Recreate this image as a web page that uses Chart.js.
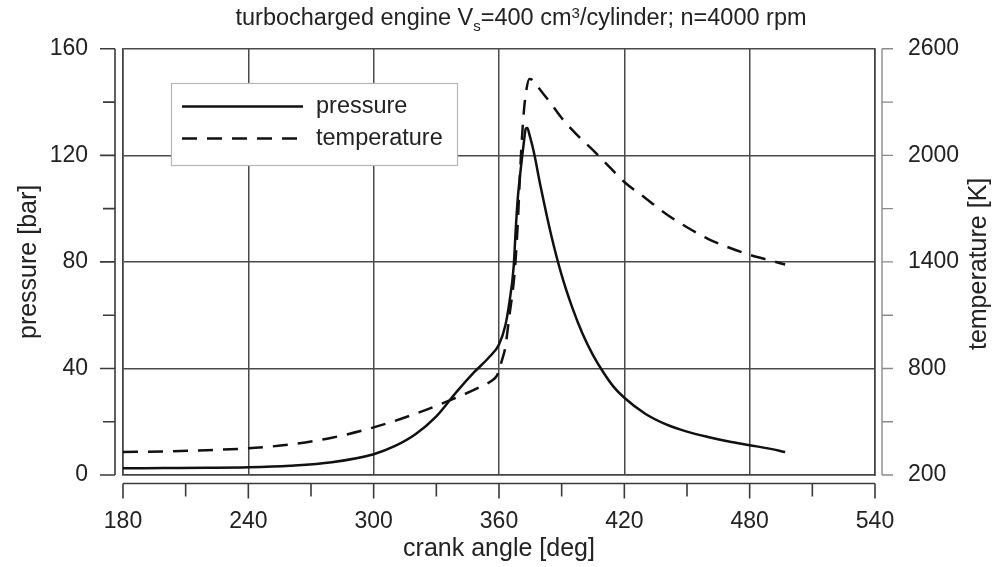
<!DOCTYPE html>
<html>
<head>
<meta charset="utf-8">
<script src="https://cdn.jsdelivr.net/npm/chart.js@4.4.1/dist/chart.umd.min.js"></script>
<style>
  html, body { margin: 0; padding: 0; background: #fff; }
  #wrap { width: 992px; height: 567px; position: relative; }
</style>
</head>
<body>
<div id="wrap"><canvas id="engine"></canvas></div>
<script>
// crank angle [deg] and pressure [bar]
var pressureAngles = [180, 200, 220, 240, 260, 280, 300, 310, 320, 330, 340, 348, 355, 360, 363, 365, 367, 368, 369, 370, 371, 372, 372.8, 373.6, 374.5, 376, 377, 380, 385, 390, 395, 400, 405, 410, 415, 420, 430, 440, 450, 460, 470, 480, 490, 497];
var pressureValues = [2.5, 2.6, 2.7, 2.9, 3.5, 4.8, 7.8, 10.8, 15.3, 22, 31.5, 38.5, 44, 49, 56, 65, 78, 92, 104, 112, 119, 125.5, 130, 130.3, 128, 123.5, 120, 108, 90, 75, 63, 53, 45, 38.5, 33, 29, 23, 19, 16.3, 14.3, 12.6, 11.2, 9.8, 8.6];

// crank angle [deg] and temperature [K]
var temperatureAngles = [180, 200, 220, 240, 260, 280, 300, 320, 340, 350, 357, 359, 360, 361.5, 363, 365, 367, 368, 369, 370, 371, 372, 373, 374.5, 376, 378, 381, 385, 390, 397, 400, 405, 410, 420, 430, 440, 450, 460, 470, 480, 490, 497];
var temperatureValues = [330, 333, 340, 350, 372, 410, 468, 545, 638, 690, 735, 760, 790, 850, 918, 1100, 1280, 1420, 1620, 1880, 2100, 2260, 2360, 2430, 2425, 2395, 2350, 2290, 2210, 2120, 2085, 2030, 1970, 1850, 1760, 1670, 1595, 1530, 1481, 1440, 1408, 1385];

var angleTicks = [180, 240, 300, 360, 420, 480, 540];
var angleMinor = [210, 270, 330, 390, 450, 510];
var pressureTicks = [0, 40, 80, 120, 160];
var pressureMinor = [20, 60, 100, 140];
var temperatureTicks = [200, 800, 1400, 2000, 2600];
var temperatureMinor = [500, 1100, 1700, 2300];

var FONT = "'Liberation Sans', Arial, Helvetica, sans-serif";

function toPoints(xs, ys) {
    return xs.map(function(x, i) { return {x: x, y: ys[i]}; });
}

function tickList(values) {
    return values.map(function(v) { return {value: v}; });
}

function plainLabel(v) {
    return String(v);
}

// offset axis lines with major/minor tick marks, drawn outside the plot frame
var offsetAxes = {
    id: 'offsetAxes',
    afterDraw: function(chart) {
        var ctx = chart.ctx, a = chart.chartArea;
        var sx = chart.scales.x, sy = chart.scales.y, sy2 = chart.scales.y2;
        var by = a.bottom + 8.5, lx = a.left - 8, rx = a.right + 7;
        ctx.save();
        ctx.lineCap = 'butt';

        ctx.strokeStyle = '#3a3a3a';
        ctx.lineWidth = 1.6;
        ctx.beginPath();
        ctx.moveTo(a.left, by); ctx.lineTo(a.right, by);
        ctx.moveTo(lx, a.top); ctx.lineTo(lx, a.bottom);
        angleTicks.forEach(function(v) {
            var p = sx.getPixelForValue(v);
            ctx.moveTo(p, by); ctx.lineTo(p, by + 15);
        });
        angleMinor.forEach(function(v) {
            var p = sx.getPixelForValue(v);
            ctx.moveTo(p, by); ctx.lineTo(p, by + 13);
        });
        pressureTicks.forEach(function(v) {
            var p = sy.getPixelForValue(v);
            ctx.moveTo(lx, p); ctx.lineTo(lx - 15, p);
        });
        pressureMinor.forEach(function(v) {
            var p = sy.getPixelForValue(v);
            ctx.moveTo(lx, p); ctx.lineTo(lx - 12, p);
        });
        ctx.stroke();

        ctx.strokeStyle = '#8a8a8a';
        ctx.lineWidth = 1.4;
        ctx.beginPath();
        ctx.moveTo(rx, a.top); ctx.lineTo(rx, a.bottom);
        temperatureTicks.concat(temperatureMinor).forEach(function(v) {
            var p = sy2.getPixelForValue(v);
            ctx.moveTo(rx, p); ctx.lineTo(rx + 11, p);
        });
        ctx.stroke();

        // right axis title, reading bottom to top
        ctx.fillStyle = '#222';
        ctx.font = '25px ' + FONT;
        ctx.textAlign = 'center';
        ctx.textBaseline = 'middle';
        ctx.translate(979, (a.top + a.bottom) / 2 + 2);
        ctx.rotate(-Math.PI / 2);
        ctx.fillText('temperature [K]', 0, 0);
        ctx.restore();
    }
};

// title with subscript / superscript
var engineTitle = {
    id: 'engineTitle',
    afterDraw: function(chart) {
        var ctx = chart.ctx;
        var big = '23.5px ' + FONT, small = '15px ' + FONT;
        var parts = [
            {t: 'turbocharged engine V', f: big, dy: 0},
            {t: 's', f: small, dy: 6},
            {t: '=400 cm', f: big, dy: 0},
            {t: '3', f: small, dy: -7},
            {t: '/cylinder; n=4000 rpm', f: big, dy: 0}
        ];
        ctx.save();
        ctx.fillStyle = '#222';
        ctx.textBaseline = 'alphabetic';
        ctx.textAlign = 'left';
        var total = 0;
        parts.forEach(function(p) { ctx.font = p.f; p.w = ctx.measureText(p.t).width; total += p.w; });
        var x = 521 - total / 2, base = 25;
        parts.forEach(function(p) {
            ctx.font = p.f;
            ctx.fillText(p.t, x, base + p.dy);
            x += p.w;
        });
        ctx.restore();
    }
};

// boxed legend inside the plot
var boxedLegend = {
    id: 'boxedLegend',
    afterDraw: function(chart) {
        var ctx = chart.ctx;
        var rows = [106.5, 138.5];
        ctx.save();
        ctx.fillStyle = '#fff';
        ctx.fillRect(171, 83, 287, 83);
        ctx.strokeStyle = '#b5b5b5';
        ctx.lineWidth = 1.2;
        ctx.strokeRect(171.5, 83.5, 286, 82);
        chart.data.datasets.forEach(function(ds, i) {
            ctx.strokeStyle = ds.borderColor;
            ctx.lineWidth = ds.borderWidth;
            ctx.setLineDash(ds.borderDash || []);
            ctx.beginPath();
            ctx.moveTo(182, rows[i]);
            ctx.lineTo(303, rows[i]);
            ctx.stroke();
            ctx.setLineDash([]);
            ctx.fillStyle = '#222';
            ctx.font = '23.5px ' + FONT;
            ctx.textAlign = 'left';
            ctx.textBaseline = 'middle';
            ctx.fillText(ds.label, 316, rows[i]);
        });
        ctx.restore();
    }
};

var gridColor = '#4a4a4a';

new Chart(document.getElementById('engine').getContext('2d'), {
    type: 'line',
    data: {
        datasets: [
            {
                label: 'pressure',
                data: toPoints(pressureAngles, pressureValues),
                yAxisID: 'y',
                borderColor: '#111',
                borderWidth: 2.5,
                pointRadius: 0,
                fill: false,
                cubicInterpolationMode: 'monotone'
            },
            {
                label: 'temperature',
                data: toPoints(temperatureAngles, temperatureValues),
                yAxisID: 'y2',
                borderColor: '#111',
                borderWidth: 2.5,
                borderDash: [15, 10],
                pointRadius: 0,
                fill: false,
                cubicInterpolationMode: 'monotone'
            }
        ]
    },
    options: {
        responsive: true,
        maintainAspectRatio: false,
        animation: false,
        layout: { padding: { top: 46, left: 0, right: 0, bottom: 0 } },
        plugins: {
            legend: { display: false },
            title: { display: false },
            tooltip: { enabled: false }
        },
        scales: {
            x: {
                type: 'linear',
                min: 180,
                max: 540,
                afterBuildTicks: function(s) { s.ticks = tickList(angleTicks); },
                afterFit: function(s) { s.height = 92; },
                grid: { color: gridColor, lineWidth: 1.5, drawTicks: false },
                border: { color: '#444', width: 1.6 },
                ticks: { padding: 33, color: '#222', font: { family: FONT, size: 23 }, callback: plainLabel },
                title: {
                    display: true,
                    text: 'crank angle [deg]',
                    color: '#222',
                    font: { family: FONT, size: 25 },
                    padding: { top: 0, bottom: 3 }
                }
            },
            y: {
                position: 'left',
                min: 0,
                max: 160,
                afterBuildTicks: function(s) { s.ticks = tickList(pressureTicks); },
                afterFit: function(s) { s.width = 123; },
                grid: { color: gridColor, lineWidth: 1.5, drawTicks: false },
                border: { color: '#444', width: 1.6 },
                ticks: { padding: 35, color: '#222', font: { family: FONT, size: 23 }, callback: plainLabel },
                title: {
                    display: true,
                    text: 'pressure [bar]',
                    color: '#222',
                    font: { family: FONT, size: 25 },
                    padding: { top: 14, bottom: 0 }
                }
            },
            y2: {
                position: 'right',
                min: 200,
                max: 2600,
                afterBuildTicks: function(s) { s.ticks = tickList(temperatureTicks); },
                afterFit: function(s) { s.width = 117; },
                grid: { drawOnChartArea: false, drawTicks: false },
                border: { color: '#444', width: 1.6 },
                ticks: { padding: 33, color: '#222', font: { family: FONT, size: 23 }, callback: plainLabel }
            }
        }
    },
    plugins: [offsetAxes, engineTitle, boxedLegend]
});
</script>
</body>
</html>
